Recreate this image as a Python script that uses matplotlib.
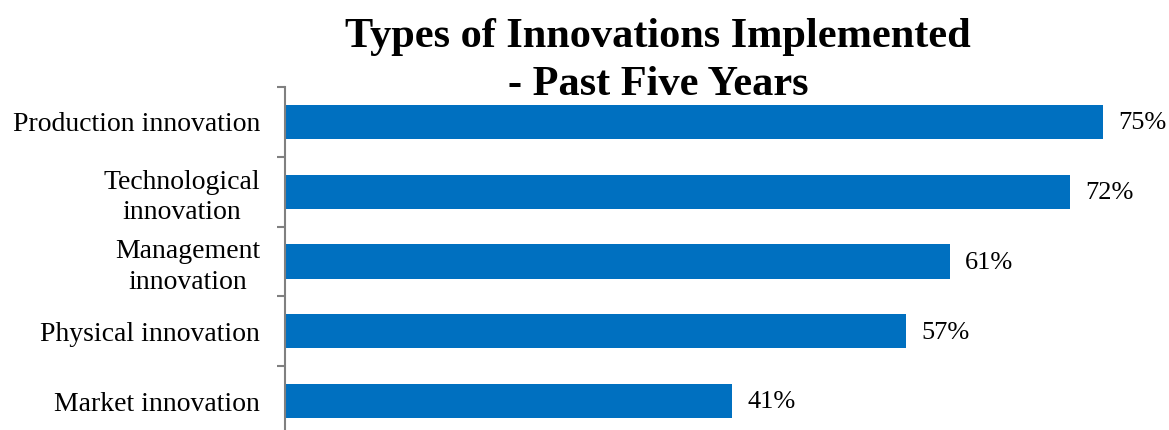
import matplotlib
matplotlib.use("Agg")
import matplotlib.pyplot as plt
import numpy as np

categories = ["Production innovation", "Technological\ninnovation", "Management\ninnovation",
              "Physical innovation", "Market innovation"]
values = [75, 72, 61, 57, 41]
value_labels = ["75%", "72%", "61%", "57%", "41%"]

plt.rcParams["font.family"] = ["Liberation Serif", "DejaVu Serif"]

W, H = 1169, 430
fig = plt.figure(figsize=(W / 100, H / 100), dpi=100)

left, right = 285, 1157
top, bottom = 87, 436
ax = fig.add_axes([left / W, 1 - bottom / H, (right - left) / W, (bottom - top) / H])

pos = np.arange(len(categories))
ax.barh(pos, values, height=0.49, color="#0070C0")
ax.set_xlim(0, 80)
ax.set_ylim(len(categories) - 0.5, -0.5)

for p, v, lab in zip(pos, values, value_labels):
    ax.annotate(lab, (v, p), xytext=(11, -1), textcoords="offset points",
                ha="left", va="center", fontsize=19)

# boundary ticks on the major locator, labels on the minor locator
ax.set_yticks(np.arange(-0.5, len(categories)), labels=[])
ax.set_yticks(pos, labels=categories, minor=True)
ax.tick_params(axis="y", which="major", length=6, width=1.5, color="#808080", direction="out")
ax.tick_params(axis="y", which="minor", length=0, pad=18, labelsize=20)
for t in ax.get_yticklabels(minor=True):
    t.set_multialignment("center")
    t.set_linespacing(1.3)

ax.set_xticks([])
for s in ["top", "right", "bottom"]:
    ax.spines[s].set_visible(False)
ax.spines["left"].set_color("#808080")
ax.spines["left"].set_linewidth(1.5)

fig.text(658 / W, 1 - 95 / H, "Types of Innovations Implemented\n- Past Five Years",
         ha="center", va="baseline", fontsize=30.5, fontweight="bold", linespacing=1.35)

fig.savefig("out.png", dpi=100)
